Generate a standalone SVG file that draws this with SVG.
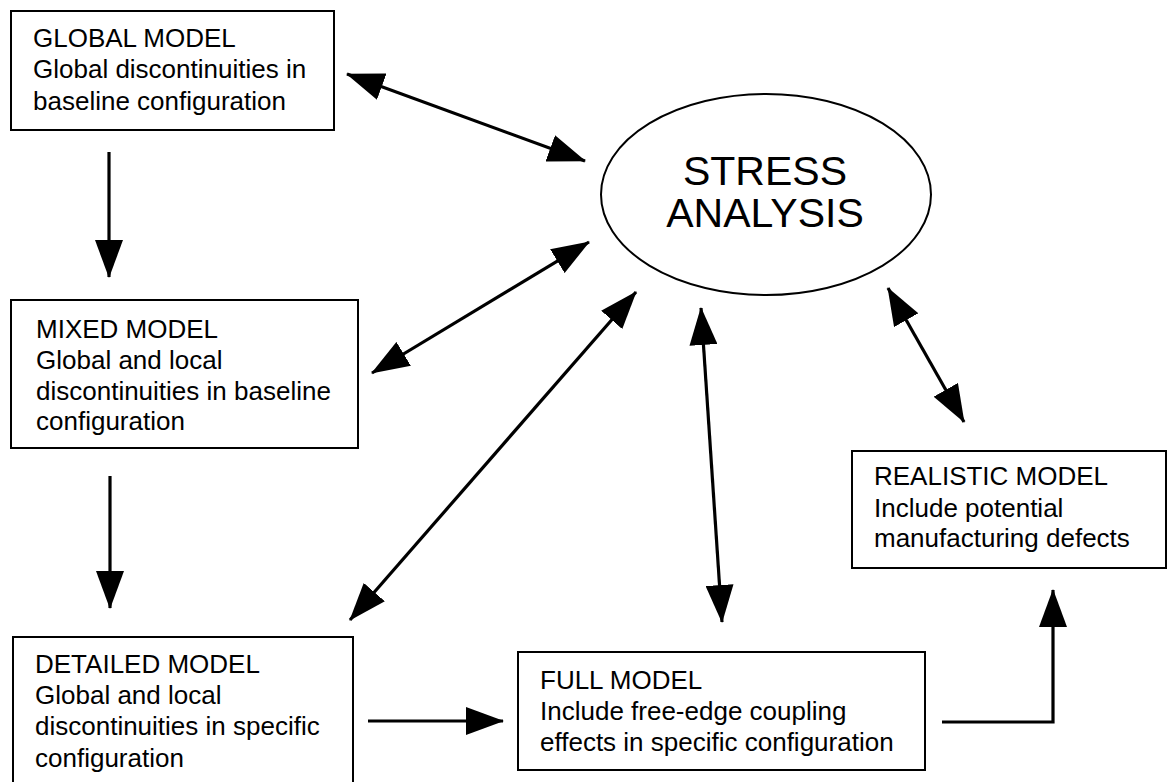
<svg xmlns="http://www.w3.org/2000/svg" width="1167" height="782" viewBox="0 0 1167 782">
<style>
  .box { fill: #fff; stroke: #000; stroke-width: 2; }
  .t { font-family: "Liberation Sans", Arial, sans-serif; font-size: 26px; fill: #000; }
  .big { font-family: "Liberation Sans", Arial, sans-serif; font-size: 41px; fill: #000; text-anchor: middle; }
  .c { fill: none; stroke: #000; stroke-width: 3.2; }
</style>
<defs>
  <marker id="ah" markerUnits="userSpaceOnUse" viewBox="0 0 38 28" markerWidth="38" markerHeight="28" refX="37" refY="14" orient="auto-start-reverse">
    <path d="M0,0 L38,14 L0,28 z" fill="#000"/>
  </marker>
</defs>
<rect width="1167" height="782" fill="#fff"/>

<g id="global">
  <rect class="box" x="11" y="11" width="323" height="119"/>
  <text class="t" x="33" y="47">GLOBAL MODEL</text>
  <text class="t" x="33" y="78">Global discontinuities in</text>
  <text class="t" x="33" y="110">baseline configuration</text>
</g>

<g id="stress">
  <ellipse cx="766" cy="194.5" rx="165" ry="100.5" fill="#fff" stroke="#000" stroke-width="2"/>
  <text class="big" x="765" y="185">STRESS</text>
  <text class="big" x="765" y="227">ANALYSIS</text>
</g>

<g id="mixed">
  <rect class="box" x="11" y="300" width="347" height="148"/>
  <text class="t" x="36" y="338">MIXED MODEL</text>
  <text class="t" x="36" y="369">Global and local</text>
  <text class="t" x="36" y="400">discontinuities in baseline</text>
  <text class="t" x="36" y="430">configuration</text>
</g>

<g id="detailed">
  <rect class="box" x="13" y="637" width="340" height="160"/>
  <text class="t" x="35" y="673">DETAILED MODEL</text>
  <text class="t" x="35" y="704">Global and local</text>
  <text class="t" x="35" y="735">discontinuities in specific</text>
  <text class="t" x="35" y="767">configuration</text>
</g>

<g id="full">
  <rect class="box" x="518" y="652" width="407" height="118"/>
  <text class="t" x="540" y="689">FULL MODEL</text>
  <text class="t" x="540" y="720">Include free-edge coupling</text>
  <text class="t" x="540" y="751">effects in specific configuration</text>
</g>

<g id="realistic">
  <rect class="box" x="852" y="451" width="314" height="117"/>
  <text class="t" x="874" y="485">REALISTIC MODEL</text>
  <text class="t" x="874" y="517">Include potential</text>
  <text class="t" x="874" y="547">manufacturing defects</text>
</g>

<g id="connectors">
  <line class="c" x1="347" y1="74" x2="585" y2="161" marker-start="url(#ah)" marker-end="url(#ah)"/>
  <line class="c" x1="372" y1="373" x2="589" y2="242" marker-start="url(#ah)" marker-end="url(#ah)"/>
  <line class="c" x1="350" y1="620" x2="636" y2="292" marker-start="url(#ah)" marker-end="url(#ah)"/>
  <line class="c" x1="701" y1="308" x2="722" y2="622" marker-start="url(#ah)" marker-end="url(#ah)"/>
  <line class="c" x1="888" y1="288" x2="964" y2="422" marker-start="url(#ah)" marker-end="url(#ah)"/>
  <line class="c" x1="109" y1="152" x2="109" y2="277" marker-end="url(#ah)"/>
  <line class="c" x1="110" y1="476" x2="110" y2="608" marker-end="url(#ah)"/>
  <line class="c" x1="368" y1="721" x2="503" y2="721" marker-end="url(#ah)"/>
  <polyline class="c" points="942,722 1053,722 1053,590" marker-end="url(#ah)"/>
</g>
</svg>
